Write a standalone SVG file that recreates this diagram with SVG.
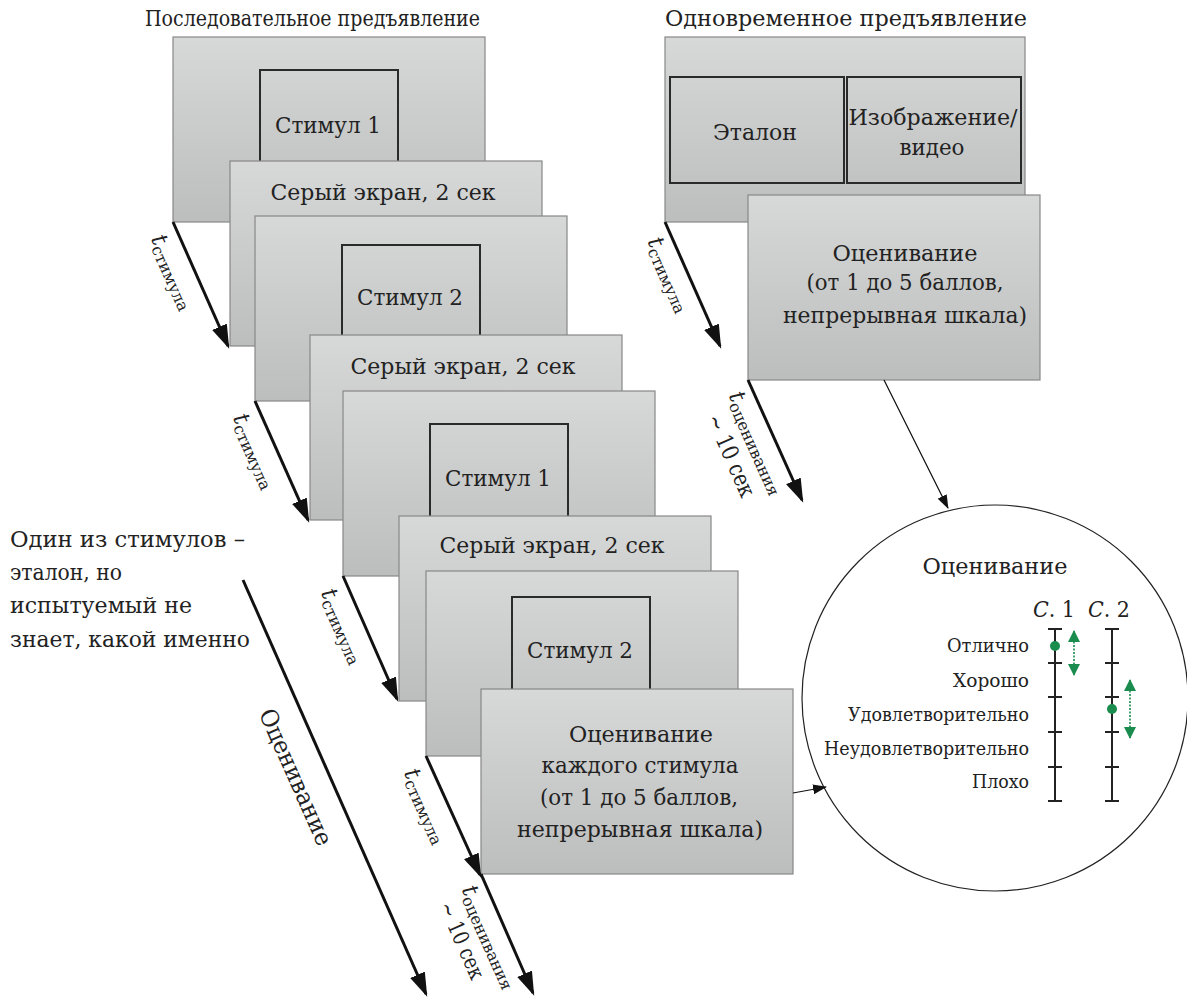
<svg xmlns="http://www.w3.org/2000/svg" width="1187" height="999" viewBox="0 0 1187 999">
<defs>
<linearGradient id="g" x1="0" y1="0" x2="0" y2="1">
<stop offset="0" stop-color="#d7d8d8"/>
<stop offset="1" stop-color="#bcbdbd"/>
</linearGradient>
<marker id="ah" markerUnits="userSpaceOnUse" viewBox="0 0 24 16" markerWidth="24" markerHeight="16" refX="21" refY="8" orient="auto">
<path d="M0,0 L24,8 L0,16 z" fill="#111"/>
</marker>
<marker id="ahs" markerUnits="userSpaceOnUse" viewBox="0 0 14 10" markerWidth="14" markerHeight="10" refX="13" refY="5" orient="auto">
<path d="M0,0 L14,5 L0,10 z" fill="#111"/>
</marker>
<marker id="gh" markerUnits="userSpaceOnUse" viewBox="0 0 12 12" markerWidth="12" markerHeight="12" refX="11" refY="6" orient="auto-start-reverse">
<path d="M0,0 L12,6 L0,12 z" fill="#1a8c4e"/>
</marker>
</defs>
<style>
.scr{fill:url(#g);stroke:#888;stroke-width:1.2}
.in{fill:none;stroke:#2a2a2a;stroke-width:2}
.ax{stroke:#222;stroke-width:2;fill:none}
.thick{stroke:#111;stroke-width:3;fill:none;marker-end:url(#ah)}
.thin{stroke:#111;stroke-width:1.2;fill:none;marker-end:url(#ahs)}
.gr{stroke:#1a8c4e;stroke-width:1.6;stroke-dasharray:2 1.5;fill:none;marker-start:url(#gh);marker-end:url(#gh)}
</style>
<rect width="1187" height="999" fill="#fff"/>

<g id="titles" font-size="23" fill="#222">
<text font-family="'DejaVu Serif', serif" x="145" y="26" textLength="335" lengthAdjust="spacingAndGlyphs">Последовательное предъявление</text>
<text font-family="'DejaVu Serif', serif" x="665" y="26" textLength="362" lengthAdjust="spacingAndGlyphs">Одновременное предъявление</text>
</g>

<g font-size="23" text-anchor="middle" fill="#222">
<g id="seq-stim1a"><rect class="scr" x="173" y="37" width="312" height="185"/><rect class="in" x="260" y="70" width="138" height="110"/><text font-family="'DejaVu Serif', serif" x="328" y="133" textLength="106" lengthAdjust="spacingAndGlyphs">Стимул 1</text></g>
<g id="seq-grey1"><rect class="scr" x="230" y="161" width="312" height="185"/><text font-family="'DejaVu Serif', serif" x="383" y="200" textLength="225" lengthAdjust="spacingAndGlyphs">Серый экран, 2 сек</text></g>
<g id="seq-stim2a"><rect class="scr" x="255" y="216" width="312" height="185"/><rect class="in" x="342" y="245" width="138" height="110"/><text font-family="'DejaVu Serif', serif" x="410" y="305" textLength="106" lengthAdjust="spacingAndGlyphs">Стимул 2</text></g>
<g id="seq-grey2"><rect class="scr" x="310" y="335" width="312" height="185"/><text font-family="'DejaVu Serif', serif" x="463" y="374" textLength="225" lengthAdjust="spacingAndGlyphs">Серый экран, 2 сек</text></g>
<g id="seq-stim1b"><rect class="scr" x="343" y="391" width="312" height="185"/><rect class="in" x="430" y="424" width="138" height="110"/><text font-family="'DejaVu Serif', serif" x="498" y="486" textLength="106" lengthAdjust="spacingAndGlyphs">Стимул 1</text></g>
<g id="seq-grey3"><rect class="scr" x="399" y="516" width="312" height="185"/><text font-family="'DejaVu Serif', serif" x="552" y="553" textLength="225" lengthAdjust="spacingAndGlyphs">Серый экран, 2 сек</text></g>
<g id="seq-stim2b"><rect class="scr" x="426" y="571" width="312" height="185"/><rect class="in" x="512" y="597" width="138" height="110"/><text font-family="'DejaVu Serif', serif" x="580" y="658" textLength="106" lengthAdjust="spacingAndGlyphs">Стимул 2</text></g>
<g id="seq-rate"><rect class="scr" x="481" y="689" width="312" height="185"/>
<text font-family="'DejaVu Serif', serif" x="641" y="742" textLength="144" lengthAdjust="spacingAndGlyphs">Оценивание</text>
<text font-family="'DejaVu Serif', serif" x="640" y="773" textLength="197" lengthAdjust="spacingAndGlyphs">каждого стимула</text>
<text font-family="'DejaVu Serif', serif" x="639" y="805" textLength="198" lengthAdjust="spacingAndGlyphs">(от 1 до 5 баллов,</text>
<text font-family="'DejaVu Serif', serif" x="640" y="837" textLength="246" lengthAdjust="spacingAndGlyphs">непрерывная шкала)</text></g>

<g id="sim-screen"><rect class="scr" x="665" y="37" width="360" height="185"/>
<rect class="in" x="670" y="77" width="174" height="106"/><rect class="in" x="847" y="77" width="174" height="106"/>
<text font-family="'DejaVu Serif', serif" x="755" y="140" textLength="84" lengthAdjust="spacingAndGlyphs">Эталон</text>
<text font-family="'DejaVu Serif', serif" x="933" y="125" textLength="169" lengthAdjust="spacingAndGlyphs">Изображение/</text>
<text font-family="'DejaVu Serif', serif" x="932" y="155" textLength="65" lengthAdjust="spacingAndGlyphs">видео</text></g>
<g id="sim-rate"><rect class="scr" x="748" y="195" width="292" height="185"/>
<text font-family="'DejaVu Serif', serif" x="905" y="261" textLength="145" lengthAdjust="spacingAndGlyphs">Оценивание</text>
<text font-family="'DejaVu Serif', serif" x="905" y="290" textLength="197" lengthAdjust="spacingAndGlyphs">(от 1 до 5 баллов,</text>
<text font-family="'DejaVu Serif', serif" x="905" y="323" textLength="244" lengthAdjust="spacingAndGlyphs">непрерывная шкала)</text></g>
</g>

<g id="note" font-size="23" fill="#222"><text font-family="'DejaVu Serif', serif" x="10" y="547" textLength="235" lengthAdjust="spacingAndGlyphs">Один из стимулов –</text>
<text font-family="'DejaVu Serif', serif" x="10" y="580" textLength="112" lengthAdjust="spacingAndGlyphs">эталон, но</text>
<text font-family="'DejaVu Serif', serif" x="10" y="613" textLength="182" lengthAdjust="spacingAndGlyphs">испытуемый не</text>
<text font-family="'DejaVu Serif', serif" x="10" y="647" textLength="240" lengthAdjust="spacingAndGlyphs">знает, какой именно</text></g>

<g id="rating-circle" fill="#222">
<circle cx="995" cy="698" r="193" fill="#fff" stroke="#222" stroke-width="1.2"/>
<text font-family="'DejaVu Serif', serif" x="995" y="574" font-size="23" text-anchor="middle" textLength="145" lengthAdjust="spacingAndGlyphs">Оценивание</text>
<text font-family="'DejaVu Serif', serif" x="1033" y="617" font-size="23" textLength="42" lengthAdjust="spacingAndGlyphs"><tspan font-style="italic">С</tspan>. 1</text>
<text font-family="'DejaVu Serif', serif" x="1088" y="617" font-size="23" textLength="42" lengthAdjust="spacingAndGlyphs"><tspan font-style="italic">С</tspan>. 2</text>
<g font-size="18" text-anchor="end">
<text font-family="'DejaVu Serif', serif" x="1029" y="652" textLength="82" lengthAdjust="spacingAndGlyphs">Отлично</text>
<text font-family="'DejaVu Serif', serif" x="1029" y="687" textLength="76" lengthAdjust="spacingAndGlyphs">Хорошо</text>
<text font-family="'DejaVu Serif', serif" x="1029" y="721" textLength="181" lengthAdjust="spacingAndGlyphs">Удовлетворительно</text>
<text font-family="'DejaVu Serif', serif" x="1029" y="755" textLength="205" lengthAdjust="spacingAndGlyphs">Неудовлетворительно</text>
<text font-family="'DejaVu Serif', serif" x="1029" y="788" textLength="57" lengthAdjust="spacingAndGlyphs">Плохо</text>
</g>
<path class="ax" d="M1055,629 V801 M1048,629 H1062 M1048,663 H1062 M1048,697 H1062 M1048,732 H1062 M1048,767 H1062 M1048,801 H1062"/>
<path class="ax" d="M1112,629 V801 M1105,629 H1119 M1105,663 H1119 M1105,697 H1119 M1105,732 H1119 M1105,767 H1119 M1105,801 H1119"/>
<circle cx="1055" cy="646" r="5" fill="#1a8c4e"/>
<circle cx="1112" cy="709" r="5" fill="#1a8c4e"/>
<path class="gr" d="M1074,631 V675"/>
<path class="gr" d="M1130,680 V738"/>
</g>

<g id="connectors">
<path class="thick" d="M173,222 L228,346"/>
<path class="thick" d="M255,401 L308,520"/>
<path class="thick" d="M343,576 L397,699"/>
<path class="thick" d="M426,756 L480,875"/>
<path class="thick" d="M481,874 L533,993"/>
<path class="thick" d="M665,222 L720,346"/>
<path class="thick" d="M748,380 L802,500"/>
<path class="thick" d="M243,580 L426,994"/>
<path class="thin" d="M884,380 L948,508"/>
<path class="thin" d="M793,793 L826,787"/>
</g>

<g id="labels" fill="#222">
<g transform="translate(173,222) rotate(66)"><text font-family="'DejaVu Serif', serif" x="6" y="27"><tspan font-style="italic" font-size="23">t</tspan><tspan font-size="16" dy="4">стимула</tspan></text></g>
<g transform="translate(255,401) rotate(66)"><text font-family="'DejaVu Serif', serif" x="6" y="27"><tspan font-style="italic" font-size="23">t</tspan><tspan font-size="16" dy="4">стимула</tspan></text></g>
<g transform="translate(343,576) rotate(66)"><text font-family="'DejaVu Serif', serif" x="6" y="27"><tspan font-style="italic" font-size="23">t</tspan><tspan font-size="16" dy="4">стимула</tspan></text></g>
<g transform="translate(426,756) rotate(66)"><text font-family="'DejaVu Serif', serif" x="6" y="27"><tspan font-style="italic" font-size="23">t</tspan><tspan font-size="16" dy="4">стимула</tspan></text></g>
<g transform="translate(665,222) rotate(66)"><text font-family="'DejaVu Serif', serif" x="10" y="24"><tspan font-style="italic" font-size="23">t</tspan><tspan font-size="16" dy="4">стимула</tspan></text></g>
<g transform="translate(748,380) rotate(66)"><text font-family="'DejaVu Serif', serif" x="6" y="24"><tspan font-style="italic" font-size="23">t</tspan><tspan font-size="16" dy="4">оценивания</tspan></text><text font-family="'DejaVu Serif', serif" x="18" y="54" font-size="23" textLength="88" lengthAdjust="spacingAndGlyphs">~ 10 сек</text></g>
<g transform="translate(481,874) rotate(66)"><text font-family="'DejaVu Serif', serif" x="6" y="24"><tspan font-style="italic" font-size="23">t</tspan><tspan font-size="16" dy="4">оценивания</tspan></text><text font-family="'DejaVu Serif', serif" x="12" y="52" font-size="22" textLength="82" lengthAdjust="spacingAndGlyphs">~ 10 сек</text></g>
<g transform="translate(243,580) rotate(66)"><text font-family="'DejaVu Serif', serif" x="128" y="40" font-size="24" textLength="147" lengthAdjust="spacingAndGlyphs">Оценивание</text></g>
</g>
</svg>
